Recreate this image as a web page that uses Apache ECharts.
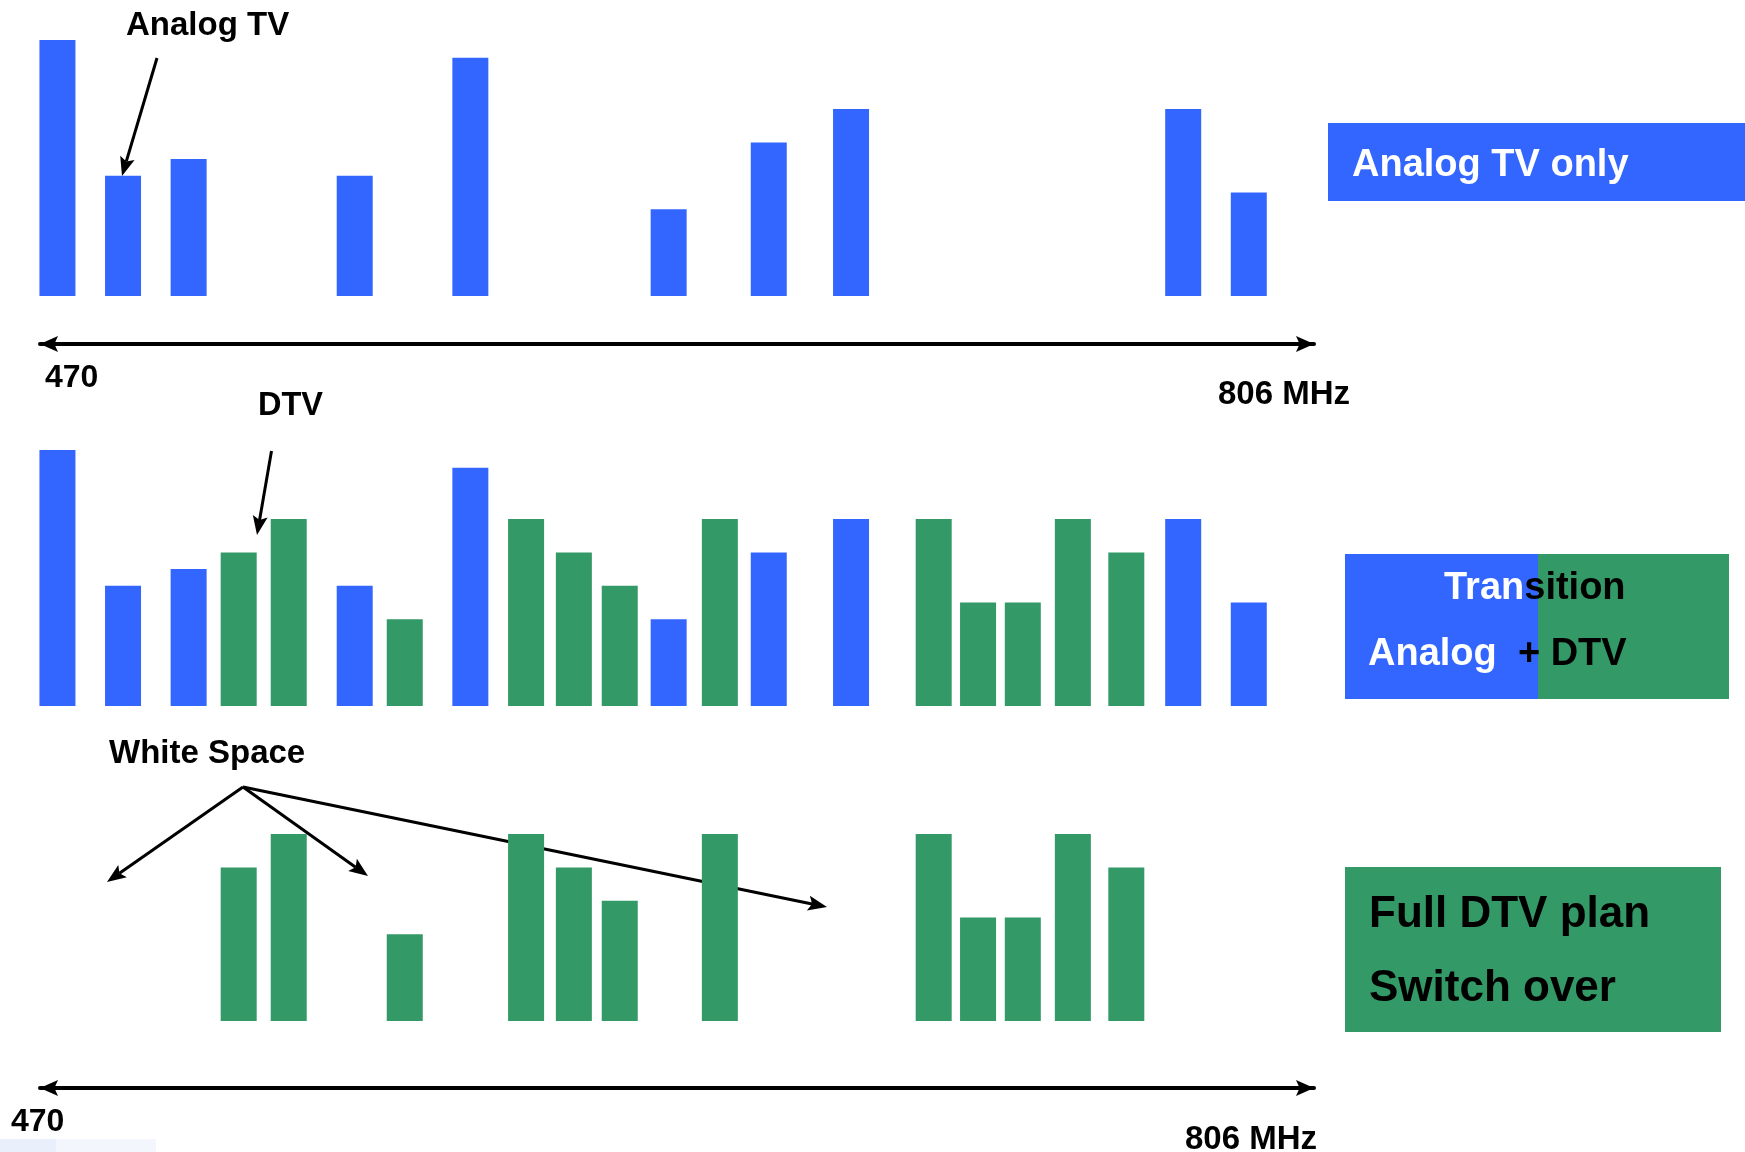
<!DOCTYPE html>
<html>
<head>
<meta charset="utf-8">
<title>UHF TV band: analog to DTV transition</title>
<script src="https://cdn.jsdelivr.net/npm/echarts@6/dist/echarts.min.js"></script>
<style>
  html, body { margin: 0; padding: 0; background: #ffffff; }
  #chart { width: 1745px; height: 1152px; }
</style>
</head>
<body>
<div id="chart"></div>
<script>
// UHF broadcast band, channel centre frequencies (MHz) and relative signal levels
const analogFreq  = [474.6, 491.9, 509.2, 553.0, 583.5, 635.8, 662.2, 683.9, 771.5, 788.8];
const analogLevel = [230, 108, 123, 108, 214, 78, 138, 168, 168, 93];

const dtvFreq  = [522.4, 535.6, 566.2, 598.2, 610.8, 622.9, 649.3, 705.7, 717.4, 729.2, 742.4, 756.5];
const dtvLevel = [138, 168, 78, 168, 138, 108, 168, 168, 93, 93, 168, 138];

const bandEdges  = [470, 806];
const bandLabels = ['470', '806 MHz'];
const levelMax   = 230;

const stageAnalog     = 'Analog TV only';
const stageTransition = ['Tran', 'sition', 'Analog', '+ DTV'];
const stageFull       = ['Full DTV plan', 'Switch over'];
const callouts        = ['Analog TV', 'DTV', 'White Space'];

const BLUE  = '#3366FF';
const GREEN = '#339966';
const FONT  = '"Liberation Sans", Arial, Helvetica, sans-serif';

const pairs = (xs, ys) => xs.map((x, i) => [x, ys[i]]);

// panel layout: three stacked strips sharing the same frequency extent
const gridLeft = 40, gridWidth = 1274, gridHeight = 256;
const gridTops = [40, 450, 765];
const axisOffsets = [48, null, 67];

const chart = echarts.init(document.getElementById('chart'), null, { renderer: 'canvas' });

const grids = gridTops.map(top => ({ left: gridLeft, top: top, width: gridWidth, height: gridHeight }));

const xAxes = gridTops.map((_, i) => ({
  type: 'value',
  gridIndex: i,
  min: bandEdges[0],
  max: bandEdges[1],
  position: 'bottom',
  offset: axisOffsets[i] || 0,
  splitLine: { show: false },
  axisTick: { show: false },
  axisLabel: { show: false },
  axisLine: {
    show: axisOffsets[i] != null,
    onZero: false,
    symbol: 'none',
    lineStyle: { color: '#000000', width: 4 }
  }
}));

const yAxes = gridTops.map((_, i) => ({
  type: 'value', gridIndex: i, min: 0, max: levelMax, show: false
}));

function barSeries(name, grid, xs, ys, color) {
  return {
    name: name,
    type: 'bar',
    xAxisIndex: grid,
    yAxisIndex: grid,
    data: pairs(xs, ys),
    barWidth: 36,
    barGap: '-100%',
    itemStyle: { color: color },
    silent: true
  };
}

chart.setOption({
  backgroundColor: '#ffffff',
  animation: false,
  grid: grids,
  xAxis: xAxes,
  yAxis: yAxes,
  series: [
    barSeries('Analog TV', 0, analogFreq, analogLevel, BLUE),
    barSeries('Analog TV', 1, analogFreq, analogLevel, BLUE),
    barSeries('DTV', 1, dtvFreq, dtvLevel, GREEN),
    barSeries('DTV', 2, dtvFreq, dtvLevel, GREEN)
  ]
});

// filled, slightly notched arrow head with its tip on `to`, pointing away from `from`
function arrowHead(from, to, headLen, headWidth) {
  const dx = to[0] - from[0], dy = to[1] - from[1];
  const len = Math.hypot(dx, dy);
  const ux = dx / len, uy = dy / len;
  const px = -uy, py = ux;
  const bx = to[0] - ux * headLen, by = to[1] - uy * headLen;
  const nx = to[0] - ux * headLen * 0.8, ny = to[1] - uy * headLen * 0.8;
  return {
    head: {
      type: 'polygon', silent: true,
      shape: { points: [
        [to[0], to[1]],
        [bx + px * headWidth / 2, by + py * headWidth / 2],
        [nx, ny],
        [bx - px * headWidth / 2, by - py * headWidth / 2]
      ] },
      style: { fill: '#000000' }
    },
    neck: [nx, ny]
  };
}

// straight callout line ending in an arrow head
function arrow(from, to, lineWidth, headLen, headWidth) {
  const a = arrowHead(from, to, headLen, headWidth);
  return [
    {
      type: 'line', silent: true,
      shape: { x1: from[0], y1: from[1], x2: a.neck[0], y2: a.neck[1] },
      style: { stroke: '#000000', lineWidth: lineWidth }
    },
    a.head
  ];
}

function label(text, x, y, size, color) {
  return {
    type: 'text', silent: true, x: x, y: y,
    style: {
      text: text, fill: color, font: 'bold ' + size + 'px ' + FONT,
      align: 'left', verticalAlign: 'middle'
    }
  };
}

function twoTone(parts, colors, x, y, size) {
  const font = 'bold ' + size + 'px ' + FONT;
  return {
    type: 'text', silent: true, x: x, y: y,
    style: {
      text: '{a|' + parts[0] + '}{b|' + parts[1] + '}',
      font: font, align: 'left', verticalAlign: 'middle',
      rich: {
        a: { fill: colors[0], font: font },
        b: { fill: colors[1], font: font }
      }
    }
  };
}

const splitX = 1538;

let graphics = [
  // stage boxes
  { type: 'rect', silent: true, shape: { x: 1328, y: 123, width: 417, height: 78 }, style: { fill: BLUE } },
  { type: 'rect', silent: true, shape: { x: 1345, y: 554, width: splitX - 1345, height: 145 }, style: { fill: BLUE } },
  { type: 'rect', silent: true, shape: { x: splitX, y: 554, width: 1729 - splitX, height: 145 }, style: { fill: GREEN } },
  { type: 'rect', silent: true, shape: { x: 1345, y: 867, width: 376, height: 165 }, style: { fill: GREEN } },
  // pale strip along the lower left edge
  { type: 'rect', silent: true, shape: { x: 0, y: 1139, width: 56, height: 13 }, style: { fill: '#e9f0fb' } },
  { type: 'rect', silent: true, shape: { x: 56, y: 1139, width: 100, height: 13 }, style: { fill: '#f3f7fd' } },

  label(stageAnalog, 1352, 166, 38, '#ffffff'),
  twoTone([stageTransition[0], stageTransition[1]], ['#ffffff', '#000000'], 1444, 588.5, 38),
  twoTone([stageTransition[2], '  ' + stageTransition[3]], ['#ffffff', '#000000'], 1368, 655, 38),
  label(stageFull[0], 1369, 915, 44, '#000000'),
  label(stageFull[1], 1369, 989, 44, '#000000'),

  // band edge labels
  label(bandLabels[0], 45, 378.5, 32, '#000000'),
  label(bandLabels[1], 1218, 395, 33, '#000000'),
  label(bandLabels[0], 11, 1122.5, 32, '#000000'),
  label(bandLabels[1], 1185, 1139.5, 33, '#000000'),

  // callouts
  label(callouts[0], 126, 25.5, 33, '#000000'),
  label(callouts[1], 258, 406.5, 32.5, '#000000'),
  label(callouts[2], 109, 753.5, 33, '#000000')
]
  .concat(arrow([157, 58], [122, 176], 3, 19, 15))
  .concat(arrow([271.5, 451], [257, 535], 3, 19, 15))
  .concat(arrow([243, 787], [107, 882], 3, 19, 15))
  .concat(arrow([243, 787], [368, 876], 3, 19, 15))
  .concat(arrow([243, 787], [827, 907], 3, 19, 15));

// double-headed arrows at both ends of each frequency axis
axisOffsets.forEach((off, i) => {
  if (off == null) return;
  const y = gridTops[i] + gridHeight + off;
  const x0 = chart.convertToPixel({ xAxisIndex: i }, bandEdges[0]);
  const x1 = chart.convertToPixel({ xAxisIndex: i }, bandEdges[1]);
  graphics.push(arrowHead([x1, y], [x0, y], 18, 16).head);
  graphics.push(arrowHead([x0, y], [x1, y], 18, 16).head);
});

chart.setOption({ graphic: graphics });
</script>
</body>
</html>
